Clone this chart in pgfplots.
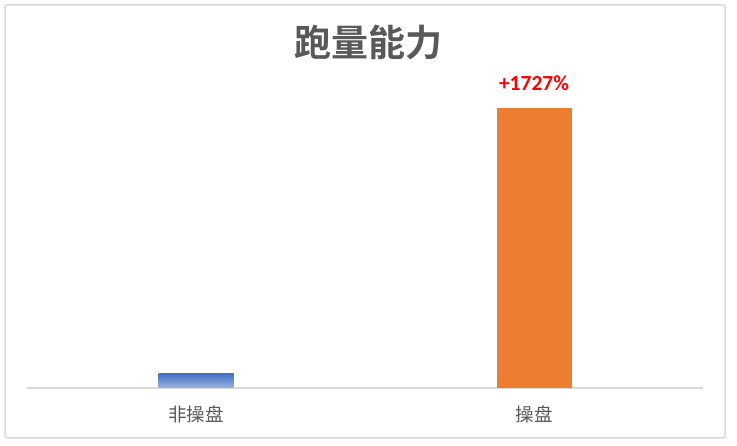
\documentclass[border=0pt]{standalone}
\usepackage{pgfplots}
\pgfplotsset{compat=1.18}
\usepackage{fontspec}
\setmainfont{Carlito}
\newfontfamily\cjk{Noto Sans CJK SC}
\newfontfamily\cjkb{Noto Sans CJK SC Bold}
\definecolor{bordergray}{HTML}{D9D9D9}
\definecolor{txtgray}{HTML}{595959}
\definecolor{titlegray}{HTML}{595959}
\definecolor{barblue}{HTML}{4472C4}
\definecolor{barblueL}{HTML}{9DB4E0}
\definecolor{barorange}{HTML}{ED7D31}
\begin{document}
\begin{tikzpicture}[x=1pt,y=1pt]
\useasboundingbox (0,0) rectangle (737,446);
\draw[bordergray, line width=1.5pt, rounded corners=2pt] (5,8) rectangle (725,441);
\node[font=\cjkb\fontsize{37}{40}\selectfont, text=titlegray] at (368,403) {跑量能力};
\begin{axis}[
  at={(27pt,58pt)}, anchor=south west,
  scale only axis, width=676pt, height=300pt,
  xmin=-0.5, xmax=1.5, ymin=0, ymax=21.43,
  axis x line=bottom, axis y line=none,
  x axis line style={-, draw=bordergray, line width=1.5pt},
  xtick={0,1}, xticklabels={非操盘,操盘},
  major tick length=0pt,
  xticklabel style={font=\cjk\fontsize{18.5}{20}\selectfont, text=txtgray, yshift=-14pt},
  ytick=\empty,
  clip=false,
]
\addplot[ybar, bar width=75pt, bar shift=0pt, draw=none, top color=barblue, bottom color=barblueL] coordinates {(0,1)};
\addplot[ybar, bar width=75pt, bar shift=0pt, draw=none, fill=barorange,
  nodes near coords={\textbf{+1727\%}},
  every node near coord/.append style={font=\fontsize{21.5}{24}\selectfont, text=red, yshift=14pt}] coordinates {(1,20)};
\end{axis}
\end{tikzpicture}
\end{document}
